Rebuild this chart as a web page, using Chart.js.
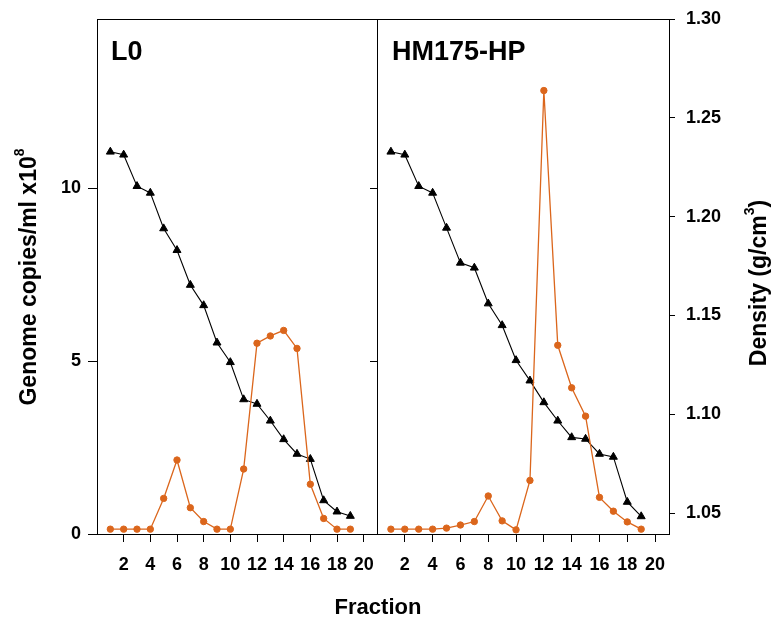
<!DOCTYPE html>
<html><head><meta charset="utf-8">
<script src="https://cdn.jsdelivr.net/npm/chart.js@4"></script>
<style>
html,body{margin:0;padding:0;background:#fff;}
canvas{position:absolute;left:0;top:0;}
</style>
</head><body>
<canvas id="c1" width="774" height="619"></canvas>
<canvas id="c2" width="774" height="619"></canvas>
<script>
// ---- data ----
const fractions = [1,2,3,4,5,6,7,8,9,10,11,12,13,14,15,16,17,18,19];
const xTicks = [2,4,6,8,10,12,14,16,18,20];
const genomeTicks = [0,5,10];
const densityTicks = [1.05,1.10,1.15,1.20,1.25,1.30];
const l0Genome = [0.14,0.14,0.14,0.14,1.03,2.14,0.76,0.36,0.14,0.14,1.88,5.52,5.73,5.89,5.37,1.44,0.45,0.14,0.14];
const l0Density = [1.2328,1.2313,1.2154,1.2120,1.1940,1.1830,1.1654,1.1551,1.1362,1.1263,1.1075,1.1052,1.0967,1.0873,1.0799,1.0773,1.0564,1.0507,1.0485];
const hpGenome = [0.14,0.14,0.14,0.14,0.17,0.26,0.36,1.10,0.38,0.12,1.55,12.83,5.46,4.23,3.41,1.06,0.66,0.35,0.14];
const hpDensity = [1.2328,1.2313,1.2154,1.2120,1.1943,1.1766,1.1741,1.1560,1.1450,1.1273,1.1170,1.1060,1.0967,1.0883,1.0875,1.0799,1.0784,1.0556,1.0483];
const panelLabels = ['L0','HM175-HP'];
const xTitle = 'Fraction';
const yTitleLeft = ['Genome copies/ml x10','8',''];
const yTitleRight = ['Density (g/cm','3',')'];

const FONT = '"Liberation Sans", Arial, sans-serif';
const ORANGE = '#DB661C';
const tickFont = {family: FONT, size: 18, weight: 'bold'};

function pts(vals){ return fractions.map((f,i)=>({x:f, y:vals[i]})); }

const framePlugin = {
  id:'frame',
  afterDraw(chart){
    const a = chart.chartArea, ctx = chart.ctx;
    ctx.save();
    ctx.strokeStyle = '#000'; ctx.lineWidth = 1;
    const l = Math.round(a.left)+0.5, t = Math.round(a.top)+0.5;
    const r = Math.round(a.right)+0.5, b = Math.round(a.bottom)+0.5;
    ctx.strokeRect(l, t, r-l, b-t);
    ctx.restore();
  }
};

function drawRotTitle(ctx, parts, cx, cy, size){
  ctx.save();
  ctx.translate(cx, cy);
  ctx.rotate(-Math.PI/2);
  ctx.fillStyle = '#000';
  ctx.textBaseline = 'middle';
  ctx.textAlign = 'left';
  const big = 'bold '+size+'px '+FONT, small = 'bold '+Math.round(size*0.62)+'px '+FONT;
  ctx.font = big; const w1 = ctx.measureText(parts[0]).width; const w3 = ctx.measureText(parts[2]).width;
  ctx.font = small; const w2 = ctx.measureText(parts[1]).width;
  let x = -(w1+w2+w3)/2;
  ctx.font = big; ctx.fillText(parts[0], x, 0); x += w1;
  ctx.font = small; ctx.fillText(parts[1], x, -size*0.42); x += w2;
  ctx.font = big; ctx.fillText(parts[2], x, 0);
  ctx.restore();
}

const textPlugin = {
  id:'texts',
  afterDraw(chart){
    const ctx = chart.ctx;
    ctx.save();
    ctx.fillStyle = '#000';
    ctx.font = 'bold 27px '+FONT;
    ctx.textAlign = 'left'; ctx.textBaseline = 'alphabetic';
    ctx.fillText(panelLabels[0], 111, 60);
    ctx.fillText(panelLabels[1], 392, 60);
    ctx.font = 'bold 22px '+FONT;
    ctx.textAlign = 'center';
    ctx.fillText(xTitle, 378, 614);
    ctx.restore();
    drawRotTitle(ctx, yTitleLeft, 30, 277, 23);
    drawRotTitle(ctx, yTitleRight, 760, 283, 23);
  }
};

function noPad(s){ s.paddingTop = 0; s.paddingBottom = 0; s.paddingLeft = 0; s.paddingRight = 0; }

function xScale(){
  return {
    type:'linear', position:'bottom', min:0, max:21,
    afterBuildTicks: s => { s.ticks = xTicks.map(v=>({value:v})); },
    afterFit: s => { s.height = 85; noPad(s); },
    grid:{drawOnChartArea:false, drawTicks:true, tickLength:8, color:'#000', lineWidth:1},
    border:{display:false},
    ticks:{font:tickFont, color:'#000', padding:12, maxRotation:0, autoSkip:false}
  };
}

function datasets(gen, den){
  return [
    {label:'Genome copies', data:pts(gen), yAxisID:'y', borderColor:ORANGE, backgroundColor:ORANGE,
     borderWidth:1.3, pointStyle:'circle', pointRadius:3.2, pointBorderWidth:1, pointBorderColor:ORANGE, pointBackgroundColor:ORANGE, tension:0},
    {label:'Density', data:pts(den), yAxisID:'yd', borderColor:'#000', backgroundColor:'#000',
     borderWidth:1.1, pointStyle:'triangle', pointRadius:4.6, pointBorderWidth:1, pointBorderColor:'#000', pointBackgroundColor:'#000', tension:0}
  ];
}

const common = {
  responsive:false, animation:false, devicePixelRatio:1,
  plugins:{legend:{display:false}, tooltip:{enabled:false}},
};

new Chart(document.getElementById('c1'), {
  type:'line',
  data:{datasets:datasets(l0Genome, l0Density)},
  options:Object.assign({}, common, {
    layout:{padding:{left:0,right:397,top:19,bottom:0}},
    scales:{
      x:xScale(),
      y:{type:'linear', position:'left', min:0, max:14.9,
         afterBuildTicks: s => { s.ticks = genomeTicks.map(v=>({value:v})); },
         afterFit: s => { s.width = 97; noPad(s); },
         grid:{drawOnChartArea:false, drawTicks:true, tickLength:9, color:'#000'},
         border:{display:false},
         ticks:{font:tickFont, color:'#000', padding:7}},
      yd:{type:'linear', position:'right', display:false, min:1.0394, max:1.30}
    }
  }),
  plugins:[framePlugin]
});

new Chart(document.getElementById('c2'), {
  type:'line',
  data:{datasets:datasets(hpGenome, hpDensity)},
  options:Object.assign({}, common, {
    layout:{padding:{left:367,right:0,top:19,bottom:0}},
    scales:{
      x:xScale(),
      y:{type:'linear', position:'left', min:0, max:14.9,
         afterBuildTicks: s => { s.ticks = genomeTicks.map(v=>({value:v})); },
         afterFit: s => { s.width = 10; noPad(s); },
         grid:{drawOnChartArea:false, drawTicks:true, tickLength:7, color:'#000'},
         border:{display:false},
         ticks:{display:false}},
      yd:{type:'linear', position:'right', min:1.0394, max:1.30,
         afterBuildTicks: s => { s.ticks = densityTicks.map(v=>({value:v})); },
         afterFit: s => { s.width = 105; noPad(s); },
         grid:{drawOnChartArea:false, drawTicks:true, tickLength:6, color:'#000'},
         border:{display:false},
         ticks:{font:tickFont, color:'#000', padding:11, callback: v => Number(v).toFixed(2)}}
    }
  }),
  plugins:[framePlugin, textPlugin]
});
</script>
</body></html>
